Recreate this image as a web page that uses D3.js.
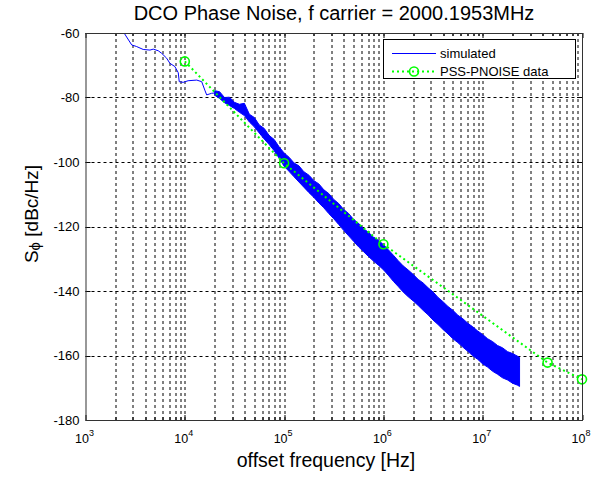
<!DOCTYPE html>
<html>
<head>
<meta charset="utf-8">
<script src="https://cdn.jsdelivr.net/npm/d3@7"></script>
<style>
  body { margin: 0; background: #fff; }
  text { font-family: "Liberation Sans", Arial, sans-serif; fill: #000; }
</style>
</head>
<body>
<div id="chart"></div>
<script>
// decades on the x axis, dB ticks on the y axis
const xDecades = [1e3, 1e4, 1e5, 1e6, 1e7, 1e8];
const yTicks = [-180, -160, -140, -120, -100, -80, -60];

// simulated trace, low offset part (single line)
const simLineFreq = [2400, 2920, 3270, 3810, 4460, 4810, 5400, 5850, 6560, 7080, 7940, 8590, 8790, 9640, 10800, 13200, 14800, 15900, 16600, 18600, 20000];
const simLineVal = [-59.6, -63.7, -64.2, -65.1, -65.3, -65.0, -65.5, -66.3, -67.8, -69.4, -70.4, -72.3, -75.1, -75.3, -74.8, -74.6, -75.1, -77.7, -79.2, -78.7, -78.6];

// simulated trace, noisy part (upper / lower edge of the band)
const simBandFreq = [2.0e4, 2.24e4, 2.51e4, 2.82e4, 3.16e4, 3.55e4, 3.98e4, 4.47e4, 5.01e4, 5.62e4, 6.31e4, 7.08e4, 7.94e4, 8.91e4,
  1.0e5, 1.12e5, 1.26e5, 1.41e5, 1.58e5, 1.78e5, 2.0e5, 2.24e5, 2.51e5, 2.82e5, 3.16e5, 3.55e5, 3.98e5, 4.47e5, 5.01e5, 5.62e5, 6.31e5, 7.08e5, 7.94e5, 8.91e5,
  1.0e6, 1.12e6, 1.26e6, 1.41e6, 1.58e6, 1.78e6, 2.0e6, 2.24e6, 2.51e6, 2.82e6, 3.16e6, 3.55e6, 3.98e6, 4.47e6, 5.01e6, 5.62e6, 6.31e6, 7.08e6, 7.94e6, 8.91e6,
  1.0e7, 1.12e7, 1.26e7, 1.41e7, 1.58e7, 1.78e7, 2.0e7, 2.24e7, 2.35e7];
const simBandUpper = [-77.9, -78.2, -80.0, -79.9, -81.5, -82.1, -81.8, -85.2, -86.2, -88.5, -89.6, -91.8, -93.0, -95.3,
  -97.2, -98.5, -100.3, -101.2, -103.0, -104.1, -105.8, -106.8, -108.6, -109.8, -111.6, -112.9, -114.7, -116.0, -117.8, -119.0, -120.7, -121.8, -123.3, -124.3,
  -125.6, -127.2, -128.9, -130.6, -132.2, -133.5, -134.9, -136.4, -137.5, -139.0, -140.3, -142.0, -143.3, -144.8, -146.0, -147.5, -148.6, -150.0, -151.1, -152.4,
  -153.5, -154.8, -155.7, -156.9, -157.6, -158.8, -159.4, -160.2, -160.6];
const simBandLower = [-79.3, -80.3, -81.6, -82.5, -83.4, -84.6, -85.6, -87.6, -89.1, -91.0, -92.9, -94.6, -96.5, -98.8,
  -101.3, -102.9, -104.6, -106.2, -107.8, -109.5, -111.0, -112.7, -114.2, -116.0, -117.6, -119.4, -121.2, -122.9, -124.6, -126.3, -127.8, -129.3, -130.7, -132.0,
  -133.4, -135.1, -137.0, -138.6, -140.3, -141.8, -143.1, -144.5, -146.0, -147.4, -149.0, -150.4, -151.9, -153.3, -154.8, -156.0, -157.4, -158.7, -160.1, -161.2,
  -162.6, -163.6, -164.9, -165.8, -166.9, -167.6, -168.6, -169.2, -169.6];

// PSS-PNOISE points
const pnoiseFreq = [1e4, 1e5, 1e6, 4.5e7, 1e8];
const pnoiseVal = [-68.8, -100.4, -125.5, -162.2, -167.4];

const width = 599, height = 477;
const margin = { top: 33, right: 17, bottom: 57, left: 85.5 };
const plotW = width - margin.left - margin.right;
const plotH = height - margin.top - margin.bottom;

const svg = d3.select('#chart').append('svg')
  .attr('width', width)
  .attr('height', height);

const chart = svg.append('g')
  .attr('transform', `translate(${margin.left},${margin.top})`);

const xScale = d3.scaleLog().domain([1e3, 1e8]).range([0, plotW]);
const yScale = d3.scaleLinear().domain([-180, -60]).range([plotH, 0]);

// minor positions 2..9 in each decade
const xMinor = [];
xDecades.slice(0, -1).forEach(d => { for (let k = 2; k <= 9; k++) xMinor.push(d * k); });

// grid
const grid = chart.append('g').attr('class', 'grid')
  .attr('stroke', '#000').attr('stroke-width', 1).attr('stroke-dasharray', '3,3');
grid.selectAll('.vg')
  .data(xDecades.slice(1, -1).concat(xMinor))
  .enter().append('line')
  .attr('x1', d => Math.round(xScale(d)) + 0.5)
  .attr('x2', d => Math.round(xScale(d)) + 0.5)
  .attr('y1', 0).attr('y2', plotH);
grid.selectAll('.hg')
  .data(yTicks.slice(1, -1))
  .enter().append('line')
  .attr('x1', 0).attr('x2', plotW)
  .attr('y1', d => Math.round(yScale(d)) + 0.5)
  .attr('y2', d => Math.round(yScale(d)) + 0.5);

// ticks, pointing inwards on all sides
const ticks = chart.append('g').attr('stroke', '#000').attr('stroke-width', 1);
[0, plotH].forEach((y0, i) => {
  const dir = i === 0 ? 1 : -1;
  ticks.selectAll(null).data(xDecades).enter().append('line')
    .attr('x1', d => Math.round(xScale(d)) + 0.5).attr('x2', d => Math.round(xScale(d)) + 0.5)
    .attr('y1', y0).attr('y2', y0 + dir * 5);
  ticks.selectAll(null).data(xMinor).enter().append('line')
    .attr('x1', d => Math.round(xScale(d)) + 0.5).attr('x2', d => Math.round(xScale(d)) + 0.5)
    .attr('y1', y0).attr('y2', y0 + dir * 3);
});
[0, plotW].forEach((x0, i) => {
  const dir = i === 0 ? 1 : -1;
  ticks.selectAll(null).data(yTicks).enter().append('line')
    .attr('x1', x0).attr('x2', x0 + dir * 5)
    .attr('y1', d => Math.round(yScale(d)) + 0.5).attr('y2', d => Math.round(yScale(d)) + 0.5);
});

// data
chart.append('clipPath').attr('id', 'clip')
  .append('rect').attr('width', plotW).attr('height', plotH);
const data = chart.append('g').attr('clip-path', 'url(#clip)');

const simLine = simLineFreq.map((f, i) => ({ f, v: simLineVal[i] }));
data.append('path')
  .datum(simLine)
  .attr('fill', 'none')
  .attr('stroke', '#0000ff')
  .attr('stroke-width', 1)
  .attr('d', d3.line().x(d => xScale(d.f)).y(d => yScale(d.v)));

const band = simBandFreq.map((f, i) => ({ f, hi: simBandUpper[i], lo: simBandLower[i] }));
data.append('path')
  .datum(band)
  .attr('fill', '#0000ff')
  .attr('stroke', '#0000ff')
  .attr('stroke-width', 1)
  .attr('d', d3.area().x(d => xScale(d.f)).y0(d => yScale(d.lo)).y1(d => yScale(d.hi)));

const pnoise = pnoiseFreq.map((f, i) => ({ f, v: pnoiseVal[i] }));
data.append('path')
  .datum(pnoise)
  .attr('fill', 'none')
  .attr('stroke', '#00ff00')
  .attr('stroke-width', 2)
  .attr('stroke-dasharray', '2,3')
  .attr('d', d3.line().x(d => xScale(d.f)).y(d => yScale(d.v)));

chart.selectAll('.pt')
  .data(pnoise)
  .enter().append('circle')
  .attr('cx', d => xScale(d.f))
  .attr('cy', d => yScale(d.v))
  .attr('r', 4.5)
  .attr('fill', 'none')
  .attr('stroke', '#00ff00')
  .attr('stroke-width', 1.6);

// axes box
chart.append('rect')
  .attr('x', 0.5).attr('y', 0.5)
  .attr('width', plotW).attr('height', plotH)
  .attr('fill', 'none').attr('stroke', '#333').attr('stroke-width', 1);

// tick labels
chart.selectAll('.ylab')
  .data(yTicks)
  .enter().append('text')
  .attr('x', -6)
  .attr('y', d => yScale(d) + 4.5)
  .attr('text-anchor', 'end')
  .style('font-size', '13px')
  .text(d => d);

const xl = chart.selectAll('.xlab')
  .data(xDecades)
  .enter().append('text')
  .attr('x', d => xScale(d) - 1)
  .attr('y', plotH + 23)
  .attr('text-anchor', 'middle')
  .style('font-size', '12.5px');
xl.append('tspan').text('10');
xl.append('tspan')
  .attr('dy', -7)
  .style('font-size', '9px')
  .text(d => Math.round(Math.log10(d)));

// title and axis labels
svg.append('text')
  .attr('x', 334).attr('y', 20)
  .attr('text-anchor', 'middle')
  .style('font-size', '20px')
  .text('DCO Phase Noise, f carrier = 2000.1953MHz');

svg.append('text')
  .attr('x', 326).attr('y', 467)
  .attr('text-anchor', 'middle')
  .style('font-size', '19.5px')
  .text('offset frequency [Hz]');

const yl = svg.append('text')
  .attr('transform', 'translate(38,214) rotate(-90)')
  .attr('text-anchor', 'middle')
  .style('font-size', '19px');
yl.append('tspan').text('S');
yl.append('tspan').attr('dy', 2).style('font-size', '15px').text('ϕ');
yl.append('tspan').attr('dy', -2).text(' [dBc/Hz]');

// legend
const leg = svg.append('g').attr('transform', 'translate(383,39)');
leg.append('rect')
  .attr('x', 0.5).attr('y', 0.5)
  .attr('width', 192).attr('height', 39)
  .attr('fill', '#fff').attr('stroke', '#000').attr('stroke-width', 1);
leg.append('line')
  .attr('x1', 9).attr('x2', 53).attr('y1', 14.5).attr('y2', 14.5)
  .attr('stroke', '#0000ff').attr('stroke-width', 1);
leg.append('text').attr('x', 57).attr('y', 19).style('font-size', '13px').text('simulated');
leg.append('line')
  .attr('x1', 9).attr('x2', 53).attr('y1', 32.5).attr('y2', 32.5)
  .attr('stroke', '#00ff00').attr('stroke-width', 2).attr('stroke-dasharray', '2,3');
leg.append('circle')
  .attr('cx', 31).attr('cy', 32.5).attr('r', 4.5)
  .attr('fill', 'none').attr('stroke', '#00ff00').attr('stroke-width', 1.6);
leg.append('text').attr('x', 57).attr('y', 37).style('font-size', '13px').text('PSS-PNOISE data');
</script>
</body>
</html>
